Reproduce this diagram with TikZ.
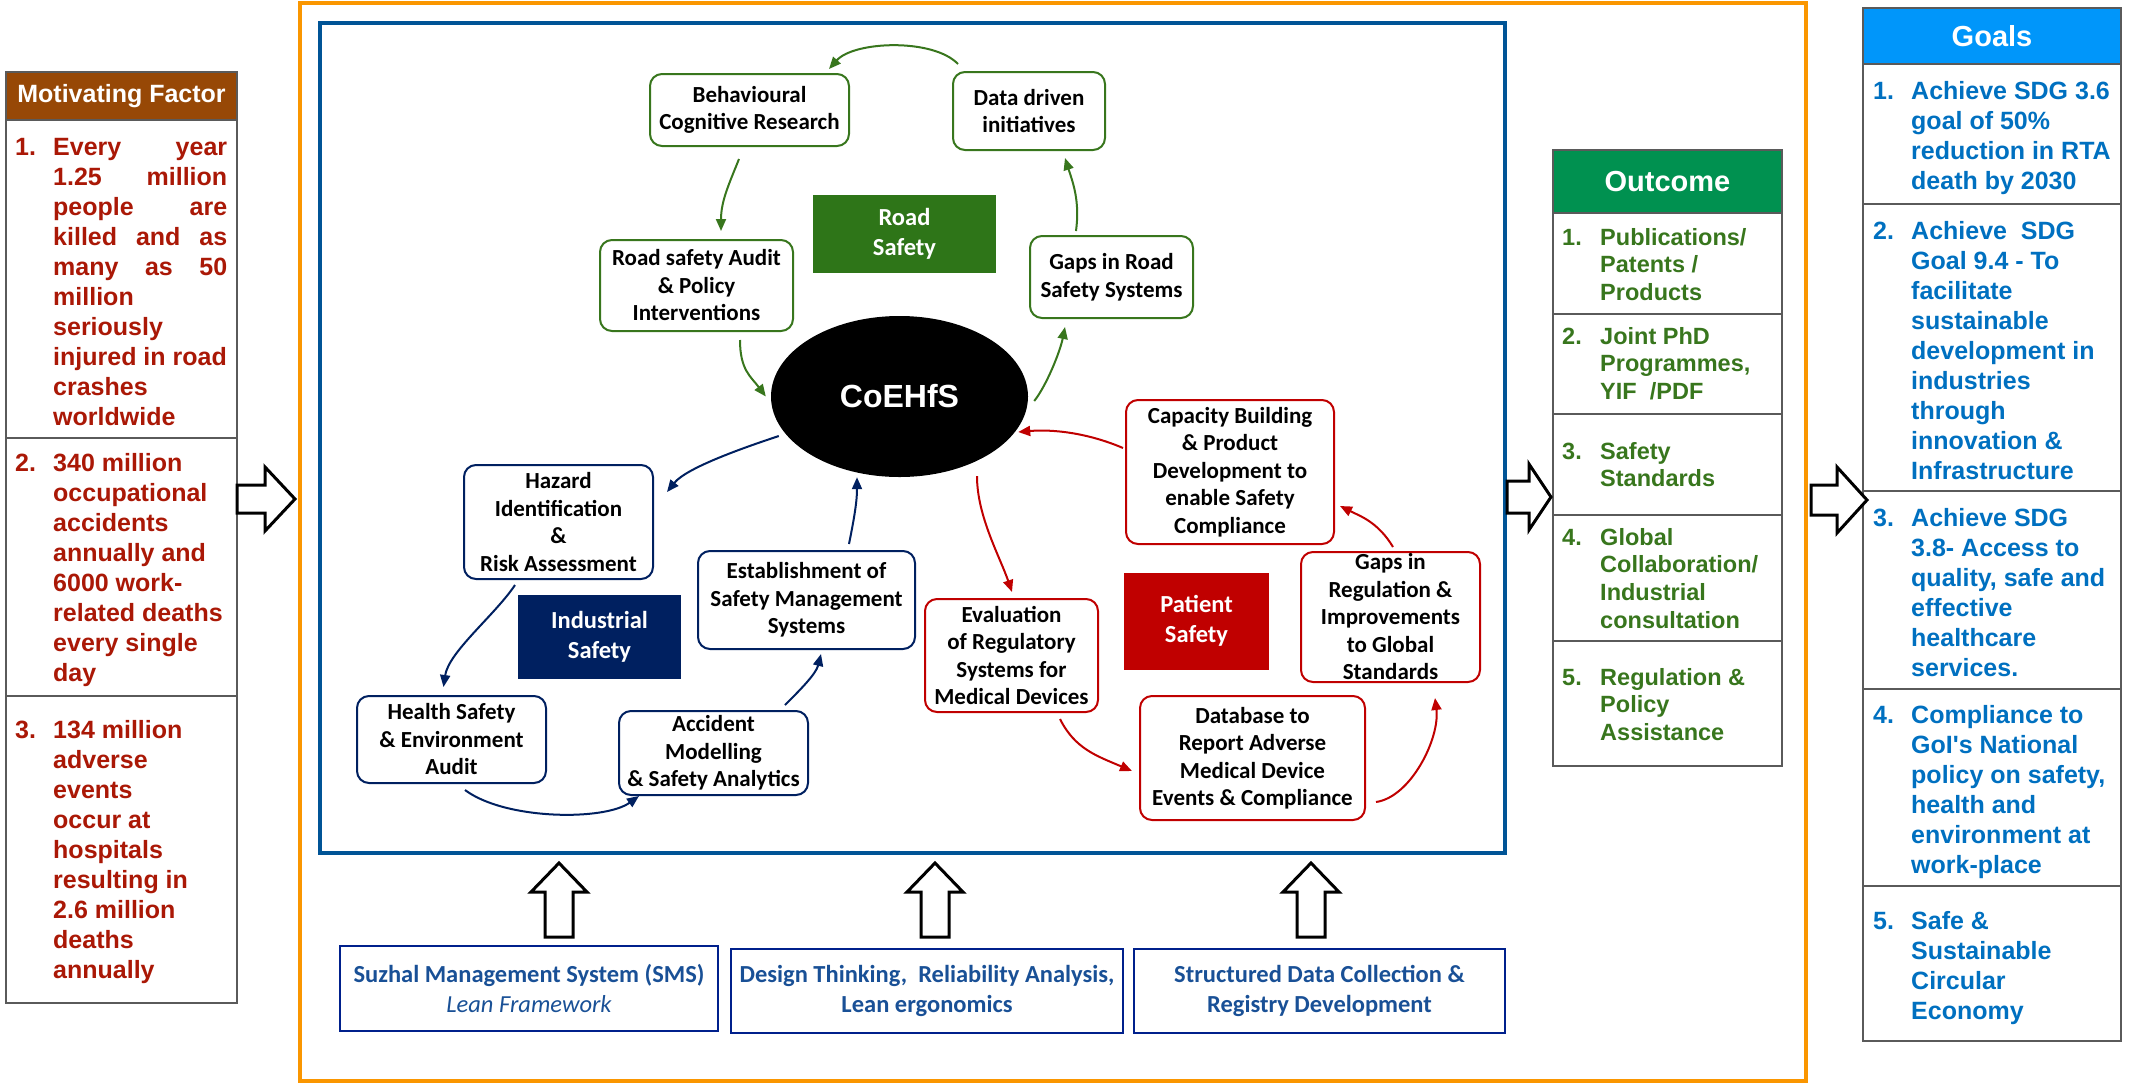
\documentclass[tikz,border=0pt]{standalone}
\usepackage{fontspec}
\setmainfont{Liberation Sans}
\newfontfamily\carl{Carlito}
\usetikzlibrary{arrows.meta,shapes.geometric}
\definecolor{mfbrown}{RGB}{151,72,6}
\definecolor{mfred}{RGB}{170,24,6}
\definecolor{ocgreen}{RGB}{0,145,80}
\definecolor{octext}{RGB}{56,118,29}
\definecolor{glblue}{RGB}{0,150,250}
\definecolor{gltext}{RGB}{0,112,192}
\definecolor{orng}{RGB}{250,150,0}
\definecolor{frameblue}{RGB}{0,84,150}
\definecolor{rsgreen}{RGB}{56,118,29}
\definecolor{rsfill}{RGB}{46,117,24}
\definecolor{indnavy}{RGB}{0,32,96}
\definecolor{patred}{RGB}{192,0,0}
\definecolor{btmborder}{RGB}{0,32,140}
\definecolor{btmtext}{RGB}{25,80,150}
\definecolor{cellline}{RGB}{90,90,90}
\begin{document}
\begin{tikzpicture}[x=1pt,y=-1pt,
  cell/.style={draw=cellline, line width=1.5pt, anchor=north west, inner sep=0pt, outer sep=0pt, minimum width=#1},
  hdr/.style={text=white, font=\bfseries\fontsize{29}{34}\selectfont},
  mftext/.style={anchor=base west, inner sep=0pt, text=mfred, font=\bfseries\fontsize{25}{30}\selectfont},
  octxt/.style={anchor=base west, inner sep=0pt, text=octext, font=\bfseries\fontsize{23.5}{27.7}\selectfont},
  gltxt/.style={anchor=base west, inner sep=0pt, text=gltext, font=\bfseries\fontsize{25}{30}\selectfont},
  cbox/.style={rectangle, rounded corners=12pt, line width=2pt, fill=white, align=center, inner sep=0pt, font={\carl\bfseries\fontsize{23}{27.5}\selectfont}},
  gbox/.style={cbox, draw=rsgreen},
  nbox/.style={cbox, draw=indnavy},
  rbox/.style={cbox, draw=patred},
  lab/.style={rectangle, inner sep=0pt, text=white, align=center, font={\carl\bfseries\fontsize{24.5}{30}\selectfont}},
  bbox/.style={rectangle, draw=btmborder, line width=2pt, inner sep=0pt, align=center, text=btmtext, font={\carl\bfseries\fontsize{24.5}{30}\selectfont}},
  tip/.style={-{Triangle[length=12pt,width=10pt]}},
  garr/.style={draw=rsgreen, line width=2pt, tip},
  narr/.style={draw=indnavy, line width=2pt, tip},
  rarr/.style={draw=patred, line width=2pt, tip},
  blk/.style={draw=black, line width=3pt, fill=white, line join=miter}
]
\useasboundingbox (0,0) rectangle (2131,1085);

% ---------- frames ----------
\draw[orng, line width=4pt] (300,3) rectangle (1806,1081);
\draw[frameblue, line width=4pt] (320,23) rectangle (1505,853);

% ---------- Motivating factor panel ----------
\node[cell=231, fill=mfbrown, minimum height=48, hdr, font=\bfseries\fontsize{25}{30}\selectfont] (mfh) at (6,72) {Motivating Factor};
\node[cell=231, minimum height=318] (mf1) at (6,120) {};
\node[cell=231, minimum height=258] (mf2) at (6,438) {};
\node[cell=231, minimum height=307] (mf3) at (6,696) {};
\node[mftext] (m1n) at (15,155) {1.};
\node[mftext] (m1) at (53,155) {\parbox[t]{178pt}{\raggedright
\makebox[174pt][s]{Every year}\\
\makebox[174pt][s]{1.25 million}\\
\makebox[174pt][s]{people are}\\
\makebox[174pt][s]{killed and as}\\
\makebox[174pt][s]{many as 50}\\
million\\ seriously\\ injured in road\\ crashes\\ worldwide}};
\node[mftext] (m2n) at (15,471) {2.};
\node[mftext] (m2) at (53,471) {\parbox[t]{178pt}{\raggedright
340 million\\ occupational\\ accidents\\ annually and\\ 6000 work-\\ related deaths\\ every single\\ day}};
\node[mftext] (m3n) at (15,738) {3.};
\node[mftext] (m3) at (53,738) {\parbox[t]{178pt}{\raggedright
134 million\\ adverse\\ events\\ occur at\\ hospitals\\ resulting in\\ 2.6 million\\ deaths\\ annually}};

% ---------- Outcome panel ----------
\node[cell=229, fill=ocgreen, minimum height=63, hdr] (och) at (1553,150) {Outcome};
\node[cell=229, minimum height=101] (oc1) at (1553,213) {};
\node[cell=229, minimum height=100] (oc2) at (1553,314) {};
\node[cell=229, minimum height=101] (oc3) at (1553,414) {};
\node[cell=229, minimum height=126] (oc4) at (1553,515) {};
\node[cell=229, minimum height=125] (oc5) at (1553,641) {};
\node[octxt] (o1n) at (1562,245) {1.};
\node[octxt] (o1) at (1600,245) {\parbox[t]{180pt}{\raggedright Publications/\\ Patents /\\ Products}};
\node[octxt] (o2n) at (1562,344) {2.};
\node[octxt] (o2) at (1600,344) {\parbox[t]{180pt}{\raggedright Joint PhD\\ Programmes,\\ YIF~~/PDF}};
\node[octxt] (o3n) at (1562,459) {3.};
\node[octxt] (o3) at (1600,459) {\parbox[t]{180pt}{\raggedright Safety\\ Standards}};
\node[octxt] (o4n) at (1562,545) {4.};
\node[octxt] (o4) at (1600,545) {\parbox[t]{180pt}{\raggedright Global\\ Collaboration/\\ Industrial\\ consultation}};
\node[octxt] (o5n) at (1562,685) {5.};
\node[octxt] (o5) at (1600,685) {\parbox[t]{180pt}{\raggedright Regulation \&\\ Policy\\ Assistance}};

% ---------- Goals panel ----------
\node[cell=258, fill=glblue, minimum height=56, hdr] (glh) at (1863,8) {Goals};
\node[cell=258, minimum height=140] (gl1) at (1863,64) {};
\node[cell=258, minimum height=287] (gl2) at (1863,204) {};
\node[cell=258, minimum height=198] (gl3) at (1863,491) {};
\node[cell=258, minimum height=197] (gl4) at (1863,689) {};
\node[cell=258, minimum height=155] (gl5) at (1863,886) {};
\node[gltxt] (g1n) at (1873,99) {1.};
\node[gltxt] (g1) at (1911,99) {\parbox[t]{205pt}{\raggedright Achieve SDG 3.6\\ goal of 50\%\\ reduction in RTA\\ death by 2030}};
\node[gltxt] (g2n) at (1873,239) {2.};
\node[gltxt] (g2) at (1911,239) {\parbox[t]{205pt}{\raggedright Achieve~~SDG\\ Goal 9.4 - To\\ facilitate\\ sustainable\\ development in\\ industries\\ through\\ innovation \&\\ Infrastructure}};
\node[gltxt] (g3n) at (1873,526) {3.};
\node[gltxt] (g3) at (1911,526) {\parbox[t]{205pt}{\raggedright Achieve SDG\\ 3.8- Access to\\ quality, safe and\\ effective\\ healthcare\\ services.}};
\node[gltxt] (g4n) at (1873,723) {4.};
\node[gltxt] (g4) at (1911,723) {\parbox[t]{205pt}{\raggedright Compliance to\\ GoI\textquotesingle s National\\ policy on safety,\\ health and\\ environment at\\ work-place}};
\node[gltxt] (g5n) at (1873,929) {5.};
\node[gltxt] (g5) at (1911,929) {\parbox[t]{205pt}{\raggedright Safe \&\\ Sustainable\\ Circular\\ Economy}};

% ---------- centre ----------
\node[ellipse, fill=black, minimum width=257, minimum height=161, inner sep=0pt, text=white, font=\bfseries\fontsize{32}{38}\selectfont] (coe) at (899.5,396.5) {CoEHfS};

\node[lab, fill=rsfill, minimum width=183, minimum height=78] (rs) at (904.5,234) {Road\\Safety};
\node[lab, fill=indnavy, minimum width=163, minimum height=84] (ind) at (599.5,637) {Industrial\\Safety};
\node[lab, fill=patred, minimum width=145, minimum height=97] (pat) at (1196.5,621) {Patient\\Safety};

\node[gbox, minimum width=199, minimum height=72] (beh) at (749.5,110) {Behavioural\\Cognitive Research};
\node[gbox, minimum width=152, minimum height=78] (dd) at (1029,111) {Data driven\\initiatives};
\node[gbox, minimum width=193, minimum height=91] (rsa) at (696.5,285.5) {Road safety Audit\\\& Policy\\Interventions};
\node[gbox, minimum width=163, minimum height=82] (gr) at (1111.5,277) {Gaps in Road\\Safety Systems};

\node[rbox, minimum width=208, minimum height=144] (cap) at (1230,472) {Capacity Building\\\& Product\\Development to\\enable Safety\\Compliance};
\node[rbox, minimum width=179, minimum height=130] (greg) at (1390.5,617) {Gaps in\\Regulation \&\\Improvements\\to Global\\Standards};
\node[rbox, minimum width=173, minimum height=113] (eval) at (1011.5,655.5) {Evaluation\\of Regulatory\\Systems for\\Medical Devices};
\node[rbox, minimum width=225, minimum height=124] (db) at (1252.5,758) {Database to\\Report Adverse\\Medical Device\\Events \& Compliance};

\node[nbox, minimum width=189, minimum height=114] (haz) at (558.5,522) {Hazard\\Identification\\\&\\Risk Assessment};
\node[nbox, minimum width=217, minimum height=98] (est) at (806.5,600) {Establishment of\\Safety Management\\Systems};
\node[nbox, minimum width=189, minimum height=87] (hse) at (451.5,739.5) {Health Safety\\\& Environment\\Audit};
\node[nbox, minimum width=189, minimum height=84] (acc) at (713.5,753) {Accident\\Modelling\\\& Safety Analytics};

% ---------- green cycle ----------
\draw[garr] ([shift={(6,-7)}]dd.north west) .. controls +(-25,-26) and +(25,-28) .. ([shift={(-21,-4)}]beh.north east);
\draw[garr] ([shift={(-10.5,12)}]beh.south) .. controls +(-10,25) and +(0,-30) .. ([shift={(24.5,-8)}]rsa.north);
\draw[garr] ([shift={(43.5,8)}]rsa.south) .. controls +(0,30) and +(-15,-20) .. ([shift={(-5,0)}]coe.west);
\draw[garr] ([shift={(6,4.5)}]coe.east) .. controls +(12,-15) and +(-5,25) .. ([shift={(-46.5,8)}]gr.south);
\draw[garr] ([shift={(-35.5,-4)}]gr.north) .. controls +(4,-30) and +(8,25) .. ([shift={(36,7)}]dd.south);

% ---------- navy cycle ----------
\draw[narr] ([shift={(8,39.5)}]coe.west) .. controls +(-30,10) and +(20,-25) .. ([shift={(13,28)}]haz.north east);
\draw[narr] ([shift={(-43.5,5)}]haz.south) .. controls +(-20,30) and +(5,-35) .. ([shift={(-8,-8)}]hse.north);
\draw[narr] ([shift={(13.5,6)}]hse.south) .. controls +(40,30) and +(-35,25) .. ([shift={(21,0)}]acc.south west);
\draw[narr] ([shift={(71.5,-5)}]acc.north) .. controls +(15,-15) and +(-5,20) .. ([shift={(14.5,4)}]est.south);
\draw[narr] ([shift={(42.5,-6)}]est.north) .. controls +(5,-25) and +(0,25) .. ([shift={(-42.5,0)}]coe.south);

% ---------- red cycle ----------
\draw[rarr] ([shift={(77.5,-1)}]coe.south) .. controls +(0,40) and +(-12,-35) .. ([shift={(0.5,-6)}]eval.north);
\draw[rarr] ([shift={(48.5,6)}]eval.south) .. controls +(15,30) and +(-35,-15) .. ([shift={(-7,13)}]db.west);
\draw[rarr] ([shift={(10,44)}]db.east) .. controls +(35,-5) and +(5,40) .. ([shift={(44.5,15)}]greg.south);
\draw[rarr] ([shift={(2.5,-4)}]greg.north) .. controls +(-15,-25) and +(20,10) .. ([shift={(5,34)}]cap.east);
\draw[rarr] ([shift={(-2,-24)}]cap.west) .. controls +(-35,-15) and +(35,-3) .. ([shift={(-10,35.5)}]coe.east);

% ---------- bottom method boxes ----------
\node[bbox, minimum width=378, minimum height=85] (b1) at (529,988.5) {Suzhal Management System (SMS)\\{\mdseries\itshape Lean Framework}};
\node[bbox, minimum width=392, minimum height=84] (b2) at (927,991) {Design Thinking,~ Reliability Analysis,\\Lean ergonomics};
\node[bbox, minimum width=371, minimum height=84] (b3) at (1319.5,991) {Structured Data Collection \&\\Registry Development};

% ---------- block arrows ----------
\draw[blk] (237,485) -- (265,485) -- (265,467) -- (295,499) -- (265,531) -- (265,513) -- (237,513) -- cycle;
\draw[blk] (1507,481) -- (1529,481) -- (1529,464) -- (1551,497) -- (1529,530) -- (1529,513) -- (1507,513) -- cycle;
\draw[blk] (1811,485) -- (1837,485) -- (1837,467) -- (1867,500) -- (1837,533) -- (1837,515) -- (1811,515) -- cycle;
\foreach \cx in {559,935,1311}{
  \draw[blk] (\cx-14,937) -- (\cx-14,892) -- (\cx-28,892) -- (\cx,863) -- (\cx+28,892) -- (\cx+14,892) -- (\cx+14,937) -- cycle;
}
\end{tikzpicture}
\end{document}
